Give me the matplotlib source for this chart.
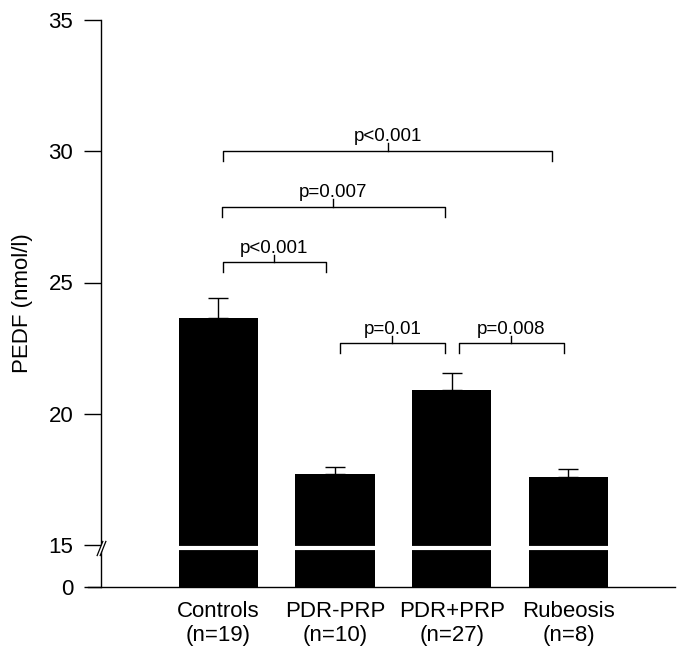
"""PEDF levels per group, bar chart with broken y axis and significance brackets."""
import numpy as np
import matplotlib
matplotlib.use("Agg")
import matplotlib.pyplot as plt
from matplotlib.path import Path
from matplotlib.transforms import blended_transform_factory

plt.rcParams["font.family"] = ["Liberation Sans", "DejaVu Sans"]

groups = ["Controls", "PDR-PRP", "PDR+PRP", "Rubeosis"]
n_per_group = [19, 10, 27, 8]
pedf_mean = [23.65, 17.69, 20.89, 17.59]
pedf_sem = [0.75, 0.30, 0.67, 0.29]

# (left group, right group, label)
comparisons = [
    (0, 3, "p<0.001"),
    (0, 2, "p=0.007"),
    (0, 1, "p<0.001"),
    (1, 2, "p=0.01"),
    (2, 3, "p=0.008"),
]
# bracket geometry: height, left/right inset from group centres
bracket_y = [30.02, 27.89, 25.77, 22.69, 22.69]
bracket_inset = [(0.04, 0.14), (0.03, 0.06), (0.04, 0.08), (0.04, 0.06), (0.06, 0.04)]

BREAK_LO = 13.4   # where 0 sits in the transformed scale
BREAK_HI = 15.0


def fwd(v):
    v = np.asarray(v, dtype=float)
    return np.where(v >= BREAK_HI, v, BREAK_LO + v * (BREAK_HI - BREAK_LO) / BREAK_HI)


def inv(u):
    u = np.asarray(u, dtype=float)
    return np.where(u >= BREAK_HI, u, (u - BREAK_LO) * BREAK_HI / (BREAK_HI - BREAK_LO))


fig = plt.figure(figsize=(6.77, 6.52), dpi=100)
ax = fig.add_axes([88 / 677, 65 / 652, 587 / 677, 567 / 652])
ax.set_yscale("function", functions=(fwd, inv))

x = np.arange(len(groups))
ax.bar(x, pedf_mean, width=0.68, color="black", zorder=2)
ax.errorbar(x, pedf_mean, yerr=[np.zeros(len(x)), pedf_sem], fmt="none",
            ecolor="black", elinewidth=1.0, capsize=7.5, capthick=1.0, zorder=1)

# white break line through the bars
ax.hlines(np.full(len(x), 14.0), x - 0.34, x + 0.34, color="white", lw=3.0, zorder=3)

# significance brackets
leg = 0.38
for (i, j, lab), yb, (dl, dr) in zip(comparisons, bracket_y, bracket_inset):
    xl, xr = x[i] + dl, x[j] - dr
    ax.plot([xl, xl, xr, xr], [yb - leg, yb, yb, yb - leg], color="black", lw=1.0,
            clip_on=False)
    xm = (xl + xr) / 2
    ax.plot([xm, xm], [yb, yb + 0.28], color="black", lw=1.0)
    ax.text(xm, yb + 0.36, lab, ha="center", va="baseline", fontsize=13.5)

ax.set_xlim(-1.118, 3.913)
ax.set_ylim(0, 35)
ax.set_yticks([0, 15, 20, 25, 30, 35])
ax.set_yticklabels(["0", "15", "20", "25", "30", "35"])
ax.yaxis.set_minor_locator(matplotlib.ticker.NullLocator())
ax.set_xticks(x)
ax.set_xticklabels([f"{g}\n(n={n})" for g, n in zip(groups, n_per_group)],
                   fontsize=16, linespacing=1.22)
ax.tick_params(axis="x", length=0, pad=10)
ax.tick_params(axis="y", length=12, width=1.0, pad=8, labelsize=16, direction="out")

ax.spines["top"].set_visible(False)
ax.spines["right"].set_visible(False)
ax.spines["left"].set_position(("axes", 13 / 587))
ax.spines["left"].set_linewidth(1.0)
ax.spines["bottom"].set_linewidth(1.0)
ax.set_ylabel("PEDF (nmol/l)", fontsize=16, labelpad=11)

# axis break mark "//"
tr = blended_transform_factory(ax.transAxes, ax.transData)
gap = Path([(-1.5, -2.5), (-0.5, -2.5), (1.5, 2.5), (0.5, 2.5), (-1.5, -2.5)])
slashes = Path([(-1.5, -2.5), (0.5, 2.5), (-0.5, -2.5), (1.5, 2.5)],
               [Path.MOVETO, Path.LINETO, Path.MOVETO, Path.LINETO])
ax.plot([13 / 587], [14.0], marker=gap, markersize=11, color="white",
        markeredgewidth=0, transform=tr, clip_on=False, zorder=5)
ax.plot([13 / 587], [14.0], marker=slashes, markersize=11, color="none",
        markeredgecolor="black", markeredgewidth=0.9, transform=tr,
        clip_on=False, zorder=6)

fig.savefig("out.png", dpi=100)
